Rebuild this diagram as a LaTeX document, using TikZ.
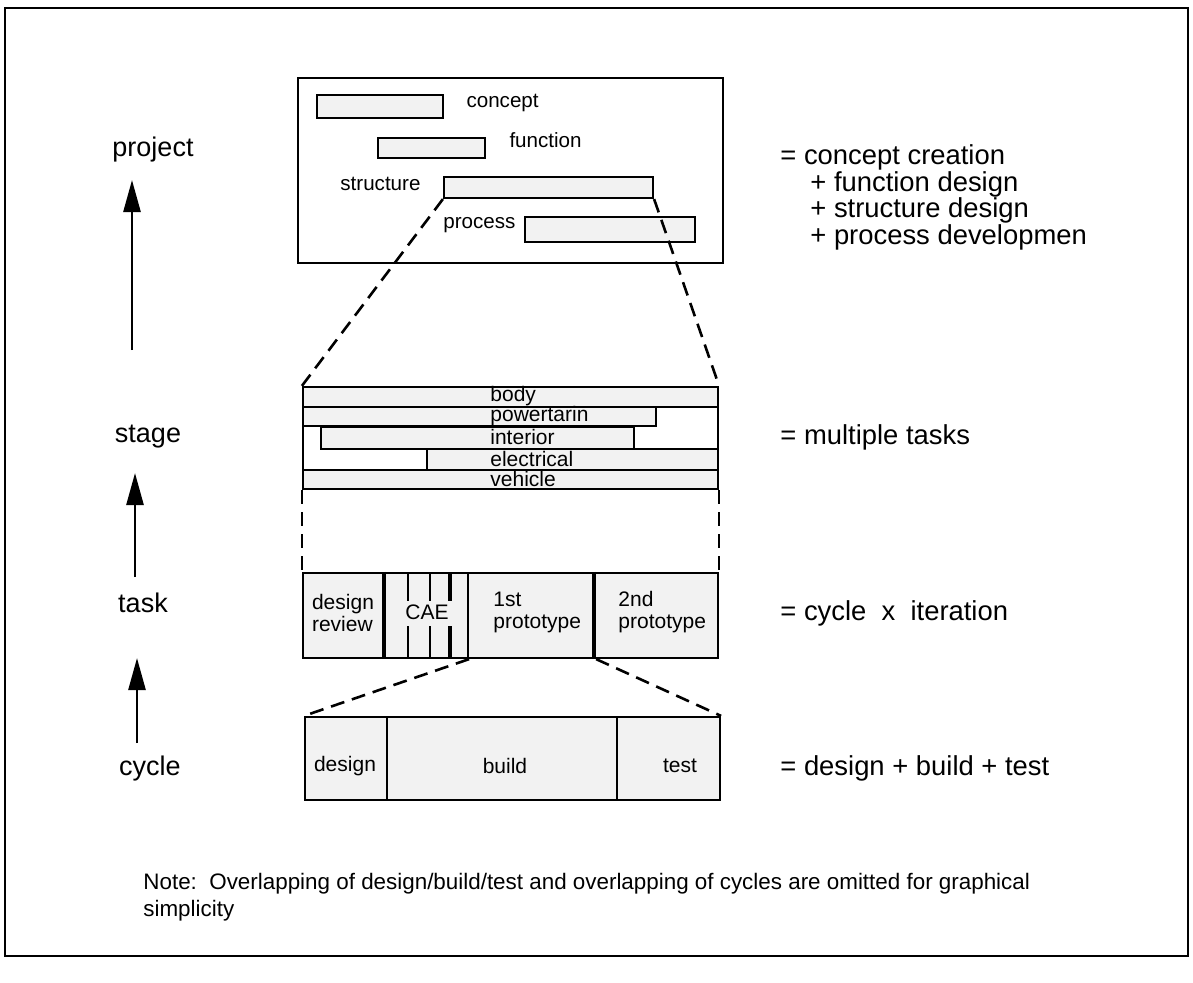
\documentclass[tikz,border=0pt]{standalone}
\usepackage{fontspec}
\setmainfont{Liberation Sans}
\usetikzlibrary{
  arrows.meta,
  positioning,
  fit
}

\begin{document}
\begin{tikzpicture}[
  x=0.5pt,
  y=-0.5pt,
  frame/.style={
    draw,
    line width=1.1pt,
    inner sep=0pt
  },
  bar/.style={
    draw,
    line width=1.1pt,
    fill=gray!10,
    inner sep=0pt
  },
  cell/.style={
    draw,
    line width=1.1pt,
    fill=gray!10,
    inner sep=0pt
  },
  celltext/.style={
    align=left,
    inner sep=0pt,
    font=\fontsize{10.5}{11}\selectfont
  },
  zoomline/.style={
    line width=1.3pt,
    dash pattern=on 7pt off 4pt
  },
  level/.style={
    font=\fontsize{13.5}{16}\selectfont,
    inner sep=0pt
  },
  eqn/.style={
    font=\fontsize{13.7}{16}\selectfont,
    anchor=west,
    inner sep=0pt
  },
  barlabel/.style={
    font=\fontsize{10.3}{12}\selectfont,
    inner sep=0pt
  },
  rowlabel/.style={
    font=\fontsize{10.5}{10}\selectfont,
    anchor=west,
    inner sep=0pt
  },
  uparrow/.style={
    -{Triangle[length=16pt,width=8.5pt]},
    line width=1.3pt
  }
]
\useasboundingbox (0,0) rectangle (1193,982);

% outer frame
\node[frame,fit={(5,8) (1188,956)}] (page) {};

% project level
\node[frame,fit={(298,78) (723,263)}] (projbox) {};
\node[bar,fit={(317,95) (443,118)}] (concept) {};
\node[bar,fit={(378,138) (485,158)}] (function) {};
\node[bar,fit={(444,177) (653,198)}] (structure) {};
\node[bar,fit={(525,217) (695,242)}] (process) {};

\node[barlabel,anchor=west] (concepttxt)
  at ([xshift=11pt,yshift=2pt]concept.east) {concept};
\node[barlabel,anchor=west] (functiontxt)
  at ([xshift=11.5pt,yshift=4pt]function.east) {function};
\node[barlabel,anchor=east] (structuretxt)
  at ([xshift=-11pt,yshift=2pt]structure.west) {structure};
\node[barlabel,anchor=east] (processtxt)
  at ([xshift=-4pt,yshift=2pt]process.west) {process};

% stage level
\node[frame,fit={(303,387) (718,489)}] (stage) {};
\node[bar,fit={(303,387) (718,407)}] (body) {};
\node[bar,fit={(303,407) (656,426)}] (powertrain) {};
\node[bar,fit={(321,427) (634,449)}] (interior) {};
\node[bar,fit={(427,449) (718,470)}] (electrical) {};
\node[bar,fit={(303,470) (718,489)}] (vehicle) {};

\node[rowlabel] (bodytxt) at (490,396) {body};
\node[rowlabel] (powertraintxt) at (490,416) {powertarin};
\node[rowlabel] (interiortxt) at (490,437) {interior};
\node[rowlabel] (electricaltxt) at (490,459) {electrical};
\node[rowlabel] (vehicletxt) at (490,479) {vehicle};

% task level
\node[frame,fit={(303,573) (718,658)}] (task) {};
\node[cell,fit={(303,573) (385,658)}] (review) {};
\node[cell,fit={(385,573) (468,658)}] (cae) {};
\node[cell,fit={(468,573) (595,658)}] (proto1) {};
\node[cell,fit={(595,573) (718,658)}] (proto2) {};
\foreach \xx/\lw in {408/1.2pt,430/1.2pt,450/2.2pt}
  \draw[line width=\lw] (\xx,573) -- (\xx,601) (\xx,626) -- (\xx,658);
\draw[line width=2.2pt] (cae.north west) -- (cae.south west);
\draw[line width=2.2pt] (proto2.north west) -- (proto2.south west);

\node[celltext] (reviewtxt) at (343,613) {design\\review};
\node[celltext] (caetxt) at (427,612) {CAE};
\node[celltext,anchor=west] (proto1txt) at (493,612) {1st\\prototype};
\node[celltext,anchor=west] (proto2txt) at (618,612) {2nd\\prototype};

% cycle level
\node[frame,fit={(305,717) (720,800)}] (cycle) {};
\node[cell,fit={(305,717) (387,800)}] (cdesign) {};
\node[cell,fit={(387,717) (617,800)}] (cbuild) {};
\node[cell,fit={(617,717) (720,800)}] (ctest) {};

\node[celltext] (cdesigntxt) at (345,766) {design};
\node[celltext] (cbuildtxt) at (505,766) {build};
\node[celltext] (ctesttxt) at (680,766) {test};

% zoom lines
\draw[zoomline] (structure.south west) -- (stage.north west);
\draw[zoomline] (structure.south east) -- (stage.north east);
\draw[zoomline] (stage.south west) -- (task.north west);
\draw[zoomline] (stage.south east) -- (task.north east);
\draw[zoomline] (cae.south east) -- (cycle.north west);
\draw[zoomline] (proto1.south east) -- (cycle.north east);

% hierarchy on the left
\node[level] (projectlbl) at (153,150) {project};
\node[level] (stagelbl) at (148,437) {stage};
\node[level] (tasklbl) at (143,603) {task};
\node[level] (cyclelbl) at (150,768) {cycle};

\coordinate (projbase) at (132,350);
\coordinate (projtip) at (132,180);
\coordinate (stagebase) at (135,577);
\coordinate (stagetip) at (135,473);
\coordinate (taskbase) at (137,743);
\coordinate (tasktip) at (137,658);
\draw[uparrow] (projbase) -- (projtip);
\draw[uparrow] (stagebase) -- (stagetip);
\draw[uparrow] (taskbase) -- (tasktip);

% definitions on the right
\node[eqn] (eqproject) at (780,157) {= concept creation};
\node[eqn] (eqfunction) at (810,184) {+ function design};
\node[eqn] (eqstructure) at (810,210) {+ structure design};
\node[eqn] (eqprocess) at (810,237) {+ process developmen};
\node[eqn] (eqstage) at (780,437) {= multiple tasks};
\node[eqn] (eqtask) at (780,613) {= cycle\ \ x\ \ iteration};
\node[eqn] (eqcycle) at (780,768) {= design + build + test};

% note
\node[anchor=west,align=left,inner sep=0pt,
  font=\fontsize{11.2}{13.5}\selectfont] (note) at (143,897)
  {Note:\ \ Overlapping of design/build/test and overlapping of cycles are omitted for graphical\\simplicity};

\end{tikzpicture}
\end{document}
